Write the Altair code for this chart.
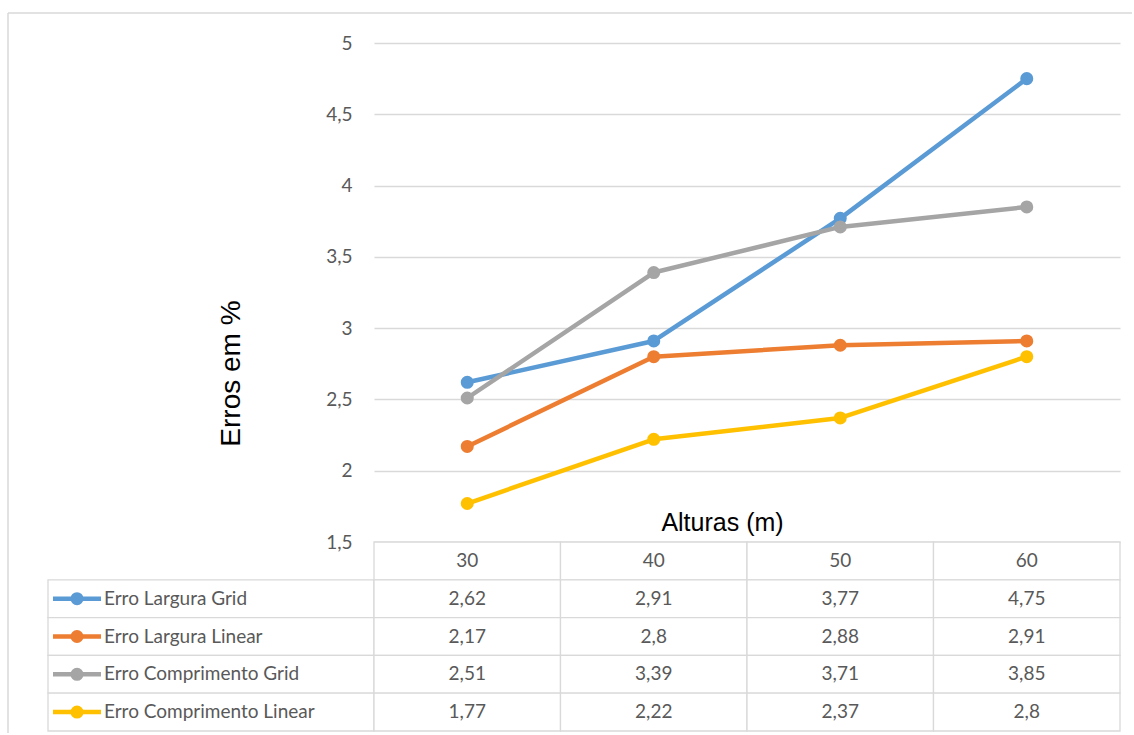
import altair as alt
import pandas as pd

# Heights (m) and error percentages per method
alturas = ["30", "40", "50", "60"]
series = [
    "Erro Largura Grid",
    "Erro Largura Linear",
    "Erro Comprimento Grid",
    "Erro Comprimento Linear",
]
largura_grid = [2.62, 2.91, 3.77, 4.75]
largura_linear = [2.17, 2.8, 2.88, 2.91]
comprimento_grid = [2.51, 3.39, 3.71, 3.85]
comprimento_linear = [1.77, 2.22, 2.37, 2.8]
y_ticks = [1.5, 2, 2.5, 3, 3.5, 4, 4.5, 5]

colors = ["#5B9BD5", "#ED7D31", "#A5A5A5", "#FFC000"]
GRID = "#D9D9D9"
TEXT = "#595959"
BODY_FONT = "Lato"
TITLE_FONT = "Liberation Sans"

values_by_series = [largura_grid, largura_linear, comprimento_grid, comprimento_linear]
rows = []
for s, vals in zip(series, values_by_series):
    for a, v in zip(alturas, vals):
        rows.append({"serie": s, "altura": a, "valor": v,
                     "rotulo": str(v).replace(".", ",")})
df = pd.DataFrame(rows)

table_rows = ["cabecalho"] + series
header_df = pd.DataFrame({"altura": alturas, "linha": ["cabecalho"] * len(alturas)})
legend_df = pd.DataFrame({"serie": series})

PLOT_W, PLOT_H = 746, 499
LEG_W, TAB_H = 326, 189

color_scale = alt.Scale(domain=series, range=colors)

# ---- chart frame (top and left edges) drawn in the empty top-left cell ----
frame_src = alt.Chart(pd.DataFrame({"k": [0]}))
frame = alt.layer(
    frame_src.mark_rule(color=GRID, strokeWidth=1.5).encode(
        x=alt.value(-40), y=alt.value(-30), y2=alt.value(690)),
    frame_src.mark_rule(color=GRID, strokeWidth=1.5).encode(
        x=alt.value(-40), x2=alt.value(1084), y=alt.value(-30)),
).properties(width=LEG_W, height=PLOT_H)

# ---- line chart ----
base = alt.Chart(df).encode(
    x=alt.X("altura:N", sort=alturas,
            scale=alt.Scale(type="point", padding=0.5, domain=alturas),
            axis=alt.Axis(title="Alturas (m)", labels=False, ticks=False, domain=False,
                          grid=False, titleX=348, titleY=-20, titleAlign="center",
                          titleBaseline="middle", titleFont=TITLE_FONT,
                          titleFontSize=25, titleFontWeight="normal", titleColor="#000000")),
    y=alt.Y("valor:Q",
            scale=alt.Scale(domain=[1.5, 5], nice=False, zero=False),
            axis=alt.Axis(values=y_ticks, labelExpr="replace(toString(datum.value), '.', ',')",
                          title="Erros em %", titleX=-143, titleY=330, titleAngle=270,
                          titleAlign="center", titleBaseline="middle", titleFont=TITLE_FONT,
                          titleFontSize=28, titleFontWeight="normal", titleColor="#000000",
                          domain=False, ticks=False, labelPadding=22, labelFont=BODY_FONT,
                          labelFontSize=19, labelColor=TEXT, gridColor=GRID, gridWidth=1.3)),
    color=alt.Color("serie:N", scale=color_scale, legend=None),
    order=alt.Order("altura:N"),
)
lines = base.mark_line(strokeWidth=4.5, strokeCap="round", strokeJoin="round")
points = base.mark_point(filled=True, size=170, opacity=1)
line_chart = alt.layer(lines, points).properties(width=PLOT_W, height=PLOT_H)

# ---- data table below the plot ----
x_band = alt.X("altura:N", sort=alturas,
               scale=alt.Scale(type="band", domain=alturas, paddingInner=0, paddingOuter=0),
               axis=None)
y_band = alt.Y("linha:N",
               scale=alt.Scale(type="band", domain=table_rows, paddingInner=0, paddingOuter=0),
               axis=None)

body = alt.Chart(df).transform_calculate(linha="datum.serie")
head = alt.Chart(header_df)

cell_style = dict(fill="white", stroke=GRID, strokeWidth=1.3)
text_style = dict(font=BODY_FONT, fontSize=19, color=TEXT, align="center", baseline="middle")

table = alt.layer(
    head.mark_rect(**cell_style).encode(x=x_band, y=y_band),
    body.mark_rect(**cell_style).encode(x=x_band, y=y_band),
    head.mark_text(**text_style).encode(x=x_band, y=y_band, text="altura:N"),
    body.mark_text(**text_style).encode(x=x_band, y=y_band, text="rotulo:N"),
).properties(width=PLOT_W, height=TAB_H)

# ---- series key column of the table ----
y_leg = alt.Y("serie:N",
              scale=alt.Scale(type="band", domain=table_rows, paddingInner=0, paddingOuter=0),
              axis=None)
leg = alt.Chart(legend_df)
legend_col = alt.layer(
    leg.mark_rect(**cell_style).encode(x=alt.value(0), x2=alt.value("width"), y=y_leg),
    leg.mark_point(filled=True, opacity=1, size=2304,
                   shape="M-1,-0.09375H1V0.09375H-1Z").encode(
        x=alt.value(29), y=y_leg,
        color=alt.Color("serie:N", scale=color_scale, legend=None)),
    leg.mark_point(filled=True, opacity=1, size=170, shape="circle").encode(
        x=alt.value(29), y=y_leg,
        color=alt.Color("serie:N", scale=color_scale, legend=None)),
    leg.mark_text(font=BODY_FONT, fontSize=19, color=TEXT, align="left",
                  baseline="middle").encode(x=alt.value(56), y=y_leg, text="serie:N"),
).properties(width=LEG_W, height=TAB_H)

chart = alt.concat(frame, line_chart, legend_col, table, columns=2,
                   spacing=0, bounds="flush").properties(
    padding={"left": 7, "top": 12, "right": 0, "bottom": 0},
    background="white",
).configure_view(strokeWidth=0)

chart.save("out.html", embed_options={"renderer": "svg", "actions": False})
